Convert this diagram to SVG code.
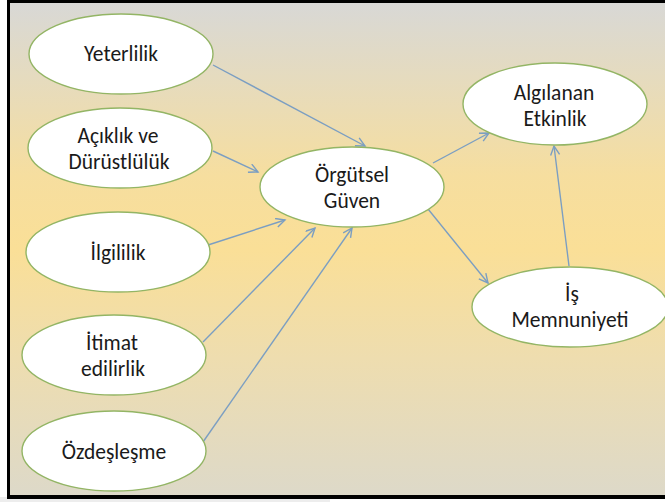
<svg xmlns="http://www.w3.org/2000/svg" width="665" height="502" viewBox="0 0 665 502">
<defs>
<linearGradient id="bg" x1="0" y1="0" x2="0" y2="1">
<stop offset="0" stop-color="#D8D8D6"/>
<stop offset="0.15" stop-color="#E5DBBF"/>
<stop offset="0.35" stop-color="#F6DE9F"/>
<stop offset="0.5" stop-color="#FADF97"/>
<stop offset="0.72" stop-color="#EEDDAF"/>
<stop offset="1" stop-color="#DDD9C9"/>
</linearGradient>
<marker id="arr" markerUnits="userSpaceOnUse" markerWidth="12" markerHeight="12" refX="10" refY="5" orient="auto">
<path d="M1,0.5 L10,5 L1,9.5" fill="none" stroke="#7B9EC2" stroke-width="1.4"/>
</marker>
<style>
.node ellipse{fill:#FFFFFF;stroke:#93B565;stroke-width:1.4}
.node text{font-family:Carlito,Lato,"Liberation Sans",sans-serif;font-size:21.5px;fill:#1A1A1A;text-anchor:middle}
.conn line{stroke:#7B9EC2;stroke-width:1.4;marker-end:url(#arr)}
</style>
</defs>
<rect x="0" y="0" width="665" height="502" fill="#FFFFFF"/>
<rect x="8" y="2" width="657" height="495" fill="url(#bg)"/>
<rect x="0" y="497" width="330" height="5" fill="#EDEDED"/>
<g id="connectors" class="conn">
<line x1="213" y1="65" x2="365" y2="146"/>
<line x1="213" y1="151" x2="258" y2="172"/>
<line x1="208" y1="245" x2="285" y2="220"/>
<line x1="203" y1="342" x2="315" y2="228"/>
<line x1="203" y1="442" x2="352" y2="228"/>
<line x1="433" y1="163" x2="489" y2="133"/>
<line x1="428" y1="209" x2="488" y2="283"/>
<line x1="569" y1="266" x2="554" y2="146"/>
</g>
<g id="yeterlilik" class="node"><ellipse cx="121" cy="54" rx="92" ry="40"/><text x="121" y="61">Yeterlilik</text></g>
<g id="aciklik" class="node"><ellipse cx="120" cy="148" rx="92" ry="40"/><text x="118" y="143">Açıklık ve</text><text x="119" y="169">Dürüstlülük</text></g>
<g id="ilgililik" class="node"><ellipse cx="118" cy="252" rx="92" ry="40"/><text x="118" y="260">İlgililik</text></g>
<g id="itimat" class="node"><ellipse cx="114" cy="355" rx="92" ry="40"/><text x="112" y="350">İtimat</text><text x="113" y="376">edilirlik</text></g>
<g id="ozdeslesme" class="node"><ellipse cx="114" cy="451" rx="92" ry="40"/><text x="114" y="459">Özdeşleşme</text></g>
<g id="orgutsel" class="node"><ellipse cx="352" cy="187" rx="92" ry="40"/><text x="352" y="182">Örgütsel</text><text x="352" y="208">Güven</text></g>
<g id="algilanan" class="node"><ellipse cx="555" cy="104" rx="92" ry="41"/><text x="554" y="100">Algılanan</text><text x="555" y="126">Etkinlik</text></g>
<g id="is" class="node"><ellipse cx="570" cy="307" rx="98" ry="40"/><text x="572" y="301">İş</text><text x="570" y="327">Memnuniyeti</text></g>
<rect x="7" y="0" width="658" height="3" fill="#000"/>
<rect x="7" y="0" width="3" height="499" fill="#000"/>
<rect x="7" y="495" width="658" height="4" fill="#000"/>
</svg>
